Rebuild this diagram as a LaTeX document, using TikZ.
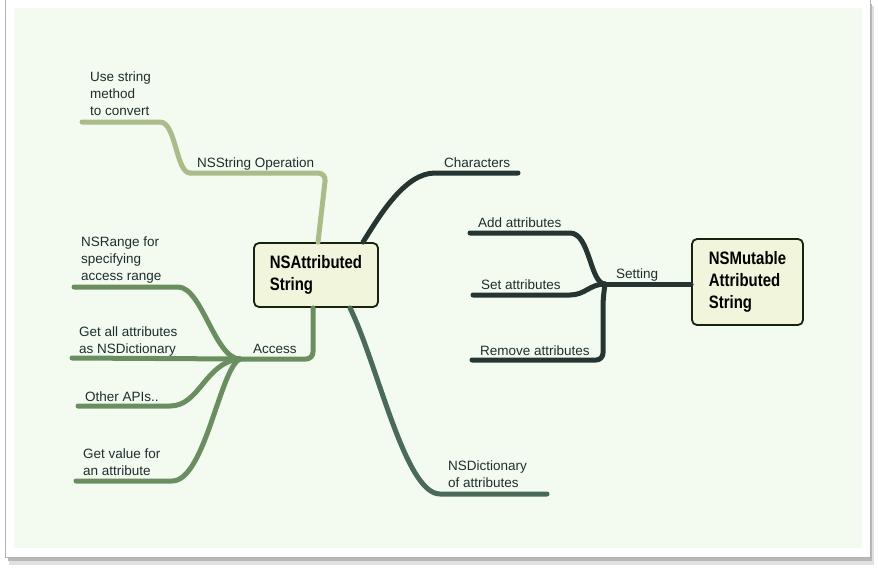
\documentclass[tikz,border=0pt]{standalone}
\usepackage{fontspec}
\setmainfont{Liberation Sans}
\newfontfamily\topicfont[FakeStretch=0.83]{Liberation Sans}
\definecolor{paper}{HTML}{F3FBF0}
\definecolor{boxfill}{HTML}{F1F5DC}
\definecolor{boxedge}{HTML}{16240F}
\definecolor{olivegreen}{HTML}{A9BC8A}
\definecolor{accgreen}{HTML}{6A8E60}
\definecolor{dictgreen}{HTML}{4A6B5A}
\definecolor{inkdark}{HTML}{253532}
\definecolor{txt}{HTML}{1E2E2E}

\begin{document}
\begin{tikzpicture}[x=1pt,y=-1pt,
	topic/.style={draw=boxedge, line width=1.8pt, fill=boxfill, rounded corners=5pt, align=left, text=black, font=\topicfont\bfseries\fontsize{18}{22}\selectfont},
	leaf/.style={anchor=base west, inner sep=0pt, align=left, text=txt, font=\fontsize{13.5}{16.8}\selectfont},
	branch/.style={line width=5pt, line cap=round, line join=round}]
	
	\useasboundingbox (0,0) rectangle (878,574);
	% card with shadow
	\fill[black!12] (9,6) rectangle (874,565);
	\fill[black!28] (8,4) rectangle (872,561);
	\filldraw[white, draw=black!30, line width=0.8pt] (5,-2) rectangle (870,557);
	\fill[paper] (14,8) rectangle (862,548);
	
	% topics
	\node[topic, minimum width=124pt, minimum height=64pt] (main) at (316,275) {NSAttributed\\String};
	\node[topic, minimum width=111pt, minimum height=86pt] (mut) at (747.5,282) {NSMutable\\Attributed\\String};
	
	% hubs and ends
	\coordinate (op) at (190,173);
	\coordinate (conv) at (82,122);
	\coordinate (chr) at (518,173);
	\coordinate (acc) at (240,359);
	\coordinate (rng) at (74,287);
	\coordinate (all) at (72,358);
	\coordinate (api) at (78,406);
	\coordinate (val) at (76,481);
	\coordinate (dict) at (547,494);
	\coordinate (set) at (605,284);
	\coordinate (add) at (470,233);
	\coordinate (sat) at (473,295);
	\coordinate (rem) at (472,360);
	
	% NSString Operation
	\draw[branch, olivegreen, rounded corners=8pt] ([xshift=2pt]main.north) -- (326,173) -- (op);
	\draw[branch, olivegreen] (op) .. controls (176,173) and (176,122) .. (160,122) -- (conv);
	
	% Characters
	\draw[branch, inkdark] ([xshift=47pt]main.north) .. controls (380,215) and (405,173) .. (435,173) -- (chr);
	
	% Access
	\draw[branch, accgreen, rounded corners=7pt] ([xshift=-3pt]main.south) -- (313,359) -- (acc);
	\draw[branch, accgreen] (acc) .. controls (215,359) and (202,287) .. (178,287) -- (rng);
	\draw[branch, accgreen] (acc) -- (all);
	\draw[branch, accgreen] (acc) .. controls (205,362) and (200,406) .. (170,406) -- (api);
	\draw[branch, accgreen] (acc) .. controls (220,368) and (205,481) .. (172,481) -- (val);
	
	% NSDictionary of attributes
	\draw[branch, dictgreen] ([xshift=34pt]main.south) .. controls (378,365) and (405,494) .. (440,494) -- (dict);
	
	% Setting
	\draw[branch, inkdark] (set) -- (set -| mut.west);
	\draw[branch, inkdark] (set) .. controls (590,284) and (590,233) .. (570,233) -- (add);
	\draw[branch, inkdark] (set) .. controls (590,284) and (585,295) .. (570,295) -- (sat);
	\draw[branch, inkdark, rounded corners=7pt] (set) -- (603,300) -- (603,360) -- (rem);
	
	% labels (base = last line)
	\node[leaf] (convtxt) at (90,115) {Use string\\method\\to convert};
	\node[leaf] (optxt) at (197,167) {NSString Operation};
	\node[leaf] (chrtxt) at (444,167) {Characters};
	\node[leaf] (rngtxt) at (81,280) {NSRange for\\specifying\\access range};
	\node[leaf] (alltxt) at (79,353) {Get all attributes\\as NSDictionary};
	\node[leaf] (acctxt) at (253,353) {Access};
	\node[leaf] (apitxt) at (85,401) {Other APIs..};
	\node[leaf] (valtxt) at (83,475) {Get value for\\an attribute};
	\node[leaf] (dicttxt) at (448,487) {NSDictionary\\of attributes};
	\node[leaf] (addtxt) at (478,227) {Add attributes};
	\node[leaf] (sattxt) at (481,289) {Set attributes};
	\node[leaf] (remtxt) at (480,355) {Remove attributes};
	\node[leaf] (settxt) at (616,278) {Setting};
\end{tikzpicture}
\end{document}
